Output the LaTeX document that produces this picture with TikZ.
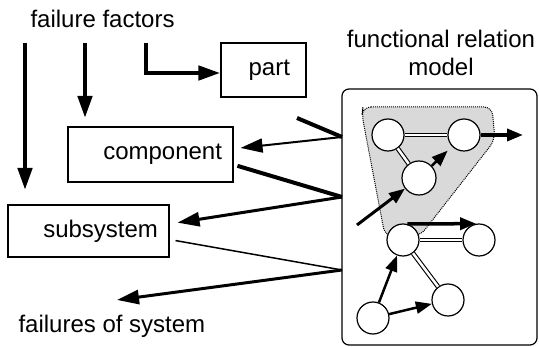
\documentclass[tikz,border=0pt]{standalone}
\usepackage{fontspec}
\setmainfont{Liberation Sans}
\usetikzlibrary{arrows.meta}

\begin{document}
\begin{tikzpicture}[x=1pt, y=-1pt,
  every node/.style={font=\fontsize{24}{28}\selectfont},
  box/.style={draw, line width=1.2pt, inner xsep=11pt, align=right},
  unit/.style={circle, draw, line width=1.2pt, fill=white, minimum size=32pt, inner sep=0pt},
  link/.style={double, double distance=2.5pt, line width=1.1pt},
  heavy/.style={line width=4pt},
  feed/.style={line width=#1, -{Triangle[length=22pt, width=14pt]}},
  feed/.default=4.5pt,
  pass/.style={line width=#1, -{Triangle[length=16pt, width=12pt]}},
  pass/.default=3pt]
  \useasboundingbox (0,0) rectangle (539,347);

  %% Texts
  \node[anchor=base west] (ff) at (27,28) {failure factors};
  \node[anchor=base west] (fs) at (15,333) {failures of system};
  \node[align=center] (title) at (441,52.5) {functional relation\\model};

  %% Hierarchy boxes
  \node[box, text width=53pt, minimum width=85pt, minimum height=54pt] (part) at (263.5,70) {part};
  \node[box, text width=143pt, minimum height=55pt] (comp) at (150.5,154.5) {component};
  \node[box, text width=139pt, minimum height=52pt] (sub) at (88.5,231) {subsystem};

  %% Failure factors
  \coordinate (f1) at (25,43);
  \coordinate (f1e) at (25,190);
  \coordinate (f2) at (85,43);
  \coordinate (f2e) at (85,118);
  \coordinate (f3) at (146,43);
  \draw[feed] (f1) -- (f1e);
  \draw[feed] (f2) -- (f2e);
  \draw[feed] (f3) |- ([yshift=-3pt]part.west);

  %% Model box
  \node[draw, line width=1.2pt, rounded corners=7pt, minimum width=195pt, minimum height=256pt] (model) at (439.5,217) {};

  %% Links between levels
  \coordinate (v1) at (342,137);
  \coordinate (v2) at (342,197);
  \coordinate (v3) at (342,270);
  \coordinate (c1) at (297,118);
  \coordinate (fe) at (117,300);
  \draw[heavy] (c1) -- (v1);
  \draw[feed=2pt, shorten >=7pt] (v1) -- (comp.4.5);
  \draw[heavy, shorten <=4pt] (comp.-7) -- (v2);
  \draw[feed=3pt, shorten >=8pt] (v2) -- (sub.5.7);
  \draw[line width=1.5pt, shorten <=6pt] (sub.-6.4) -- (v3);
  \draw[feed=3pt] (v3) -- (fe);

  %% Grouped region
  \filldraw[fill=black!15, densely dotted, line width=1pt, rounded corners=8pt]
    (363,107) -- (492,107) -- (495,140) -- (420,236) -- (385,236) -- (362,115) -- cycle;

  %% Functional units
  \node[unit] (n1) at (388,135) {};
  \node[unit] (n2) at (464,135) {};
  \node[unit, minimum size=34pt] (n3) at (419,178) {};
  \node[unit] (n4) at (403,240) {};
  \node[unit] (n5) at (479,240) {};
  \node[unit] (n6) at (448,300) {};
  \node[unit] (n7) at (373,318) {};

  \draw[link] (n1) -- (n2);
  \draw[link] (n1) -- (n3);
  \draw[link] (n4) -- (n5);
  \draw[link] (n4) -- (n6);

  \coordinate (in3) at (357,225);
  \coordinate (out2) at (523,135);
  \draw[pass=2.5pt, shorten >=6pt] (n3) -- (n2);
  \draw[pass] (in3) -- (n3);
  \draw[pass=3.5pt] (n2) -- (out2);
  \draw[pass=3.5pt] (n4.75) -- (n5.100);
  \draw[pass=2.5pt] (n7) -- (n4);
  \draw[pass=2.5pt] (n7) -- (n6);
\end{tikzpicture}
\end{document}
